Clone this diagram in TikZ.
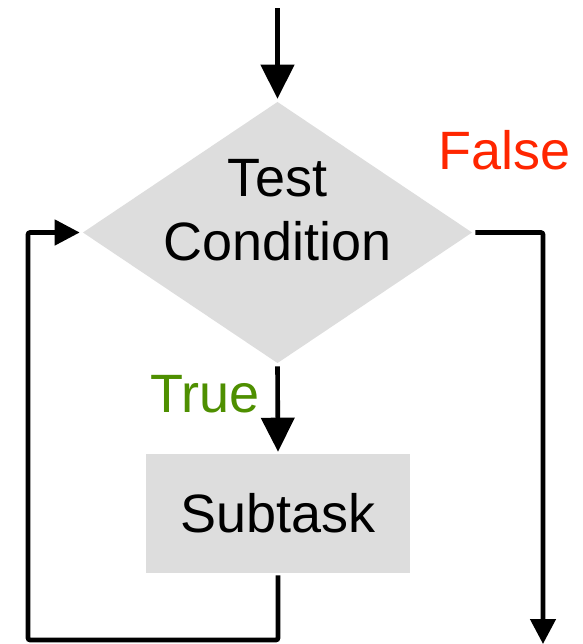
\documentclass[tikz,border=0pt]{standalone}
\usepackage{fontspec}
\setmainfont{Liberation Sans}
\usetikzlibrary{shapes, positioning, arrows.meta}
\definecolor{boxgray}{HTML}{DDDDDD}
\definecolor{falsered}{HTML}{FF2600}
\definecolor{truegreen}{HTML}{4E8F00}

\begin{document}
\begin{tikzpicture}[x=0.5pt, y=-0.5pt, line width=2.3pt,
		big/.style={-{Triangle[length=17pt, width=16.5pt]}},
		small/.style={-{Triangle[length=12.5pt, width=12.5pt]}},
		box/.style={fill=boxgray, draw=none, inner sep=0pt},
		lbl/.style={font=\fontsize{27}{32}\selectfont}]
			\useasboundingbox (0,0) rectangle (583,644);
			
			% test e subtask
			\node[diamond, box, minimum width=195.5pt, minimum height=131.5pt] (test) at (277.5,232.5) {};
			\node[lbl, align=center] (cond) at ([yshift=11pt]test.center) {Test\\Condition};
			\node[rectangle, box, minimum width=132pt, minimum height=59.5pt, lbl] (sub) at (278,513.5) {Subtask};
			
			% labels
			\node[lbl, text=falsered] (false) at (505,150) {False};
			\node[lbl, text=truegreen] (true) at (205,394) {True};
			
			% frecce
			\coordinate (start) at (277.5,8);
			\coordinate (out) at (543,644);
			\coordinate (back) at (28,640);
			
			\draw[big] (start)--(test.north);
			\draw[big] (test.south)--(sub.north);
			\draw[small, rounded corners=1pt] (test.east) -| (out);
			\draw[small, rounded corners=1pt] (sub.south) |- (back) |- (test.west);
		\end{tikzpicture}
\end{document}
